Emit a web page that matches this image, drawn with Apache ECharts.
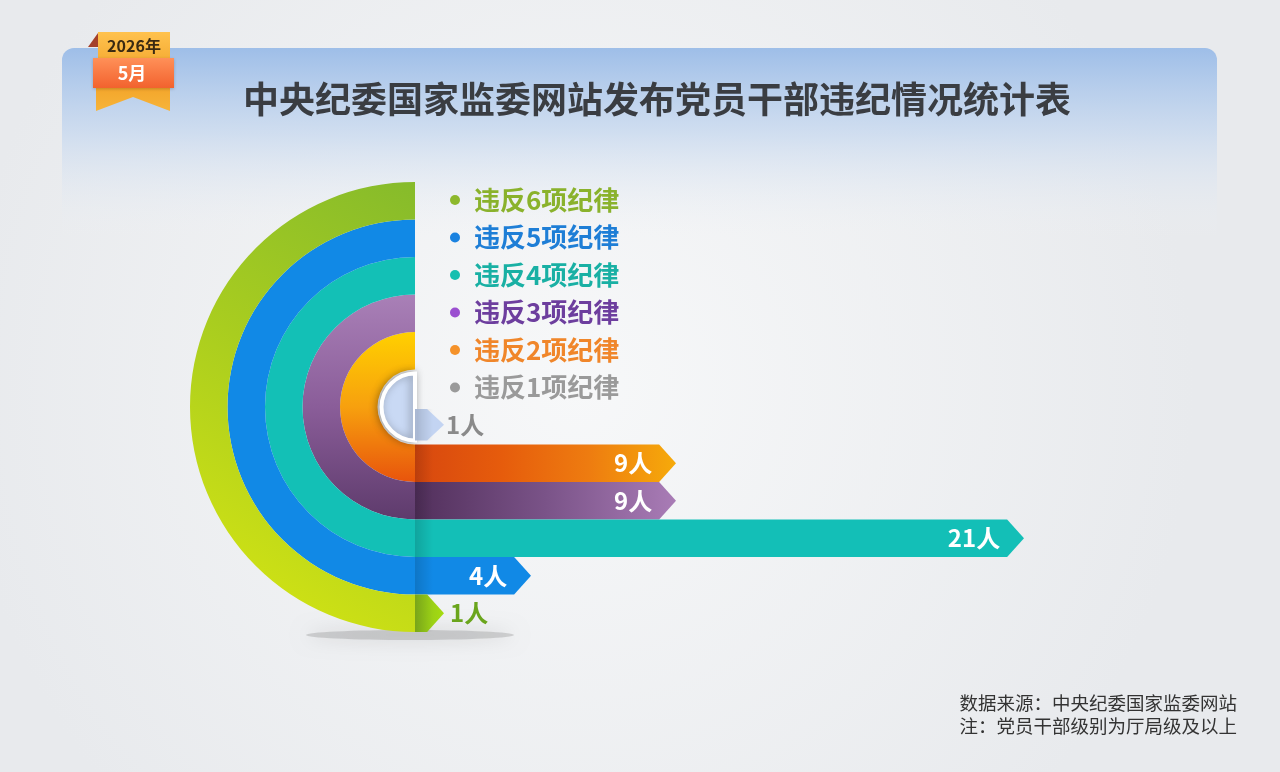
<!DOCTYPE html>
<html>
<head>
<meta charset="utf-8">
<script src="https://cdn.jsdelivr.net/npm/echarts@6/dist/echarts.min.js"></script>
<style>
html, body { margin: 0; padding: 0; background: #f0f2f5; }
#chart { width: 1280px; height: 772px; }
</style>
</head>
<body>
<div id="chart"></div>
<script>
// data, top category first
var categories = ['违反1项纪律', '违反2项纪律', '违反3项纪律', '违反4项纪律', '违反5项纪律', '违反6项纪律'];
var values = [1, 9, 9, 21, 4, 1];
var unit = '人';
var legendOrder = categories.slice().reverse();
var titleText = '中央纪委国家监委网站发布党员干部违纪情况统计表';
var badgeYear = '2026年';
var badgeMonth = '5月';
var notes = ['数据来源：中央纪委国家监委网站', '注：党员干部级别为厅局级及以上'];

var G = echarts.graphic;
var lg = function(x0, y0, x1, y1, stops) {
    return new G.LinearGradient(x0, y0, x1, y1, stops.map(function(c, i) {
        return typeof c == 'string' ? { offset: i / (stops.length - 1), color: c } : c;
    }));
};

// look of each band, same order as categories
var ringFill = [
    '#c9d9f4',
    lg(0, 0, 0, 1, ['#ffd000', '#f7a00e', '#e8540c']),
    lg(0, 0, 0, 1, ['#a980b7', '#8a5d99', '#5e3b6c']),
    '#13c0b6',
    '#1189e6',
    lg(0, 0.85, 1, 0, ['#d0e214', '#a9cd1f', '#86bb2b'])
];
var barFill = [
    'rgba(190,208,242,0.9)',
    lg(0, 0, 1, 0, ['#d8480f', '#e65c0c', '#ee7c10', '#f6aa0a']),
    lg(0, 0, 1, 0, ['#52305c', '#7a5388', '#a97cb6']),
    '#13bfb7',
    '#1189e6',
    lg(0, 0, 1, 0, ['#8cc01e', '#a6dc10'])
];
var legendDot = ['#9a9a9a', '#f5922a', '#9b4fd0', '#16bfb0', '#1a82e0', '#8db82c'];
var legendText = ['#9a9a9a', '#f0862a', '#6d3e9e', '#19b0a4', '#1e7ed6', '#8ab22c'];
var outLabel = ['#8a8a8a', '#fff', '#fff', '#fff', '#fff', '#6aa51c'];

var renderBand = function(idx) {
    return function(params, api) {
        var h = api.size([0, 1])[1];
        var cy = api.coord([0, 0])[1] - h / 2;
        var cx = api.coord([0, idx])[0];
        var tip = api.coord([api.value(0), idx])[0];
        var top = cy + idx * h, bot = top + h;
        var d = h * 0.45;
        var kids = [];
        if (idx == categories.length - 1) {
            kids.push({
                type: 'ellipse',
                shape: { cx: cx - 5, cy: bot + 3, rx: 104, ry: 5 },
                style: { fill: 'rgba(90,90,90,0.22)', shadowBlur: 18, shadowColor: 'rgba(0,0,0,0.6)' },
                z2: -1
            });
        }
        if (idx == 0) {
            kids.push({
                type: 'sector',
                shape: { cx: cx, cy: cy, r0: 0, r: h - 4, startAngle: Math.PI / 2, endAngle: Math.PI * 1.5, clockwise: true },
                style: { fill: ringFill[idx], stroke: '#fff', lineWidth: 4, shadowBlur: 8, shadowColor: 'rgba(0,0,0,0.35)', shadowOffsetX: -2 }
            });
        } else {
            kids.push({
                type: 'sector',
                shape: { cx: cx, cy: cy, r0: idx * h, r: (idx + 1) * h, startAngle: Math.PI / 2, endAngle: Math.PI * 1.5, clockwise: true },
                style: { fill: ringFill[idx] }
            });
        }
        var bt = idx == 0 ? top + 2 : top, bb = idx == 0 ? bot - 4 : bot;
        var bm = (bt + bb) / 2;
        kids.push({
            type: 'polygon',
            shape: { points: [[cx, bt], [tip - d, bt], [tip, bm], [tip - d, bb], [cx, bb]] },
            style: { fill: barFill[idx] }
        });
        kids.push({
            type: 'rect',
            shape: { x: cx, y: bt, width: 18, height: bb - bt },
            style: { fill: lg(0, 0, 1, 0, ['rgba(0,0,0,0.14)', 'rgba(0,0,0,0)']) }
        });
        var inside = tip - cx > 70;
        kids.push({
            type: 'text',
            x: inside ? tip - d - 7 : tip + (idx == 0 ? 2 : 6),
            y: bm,
            style: {
                text: api.value(0) + unit,
                fill: outLabel[idx],
                font: 'bold 24px "Noto Sans CJK SC", "Noto Sans", sans-serif',
                align: inside ? 'right' : 'left',
                verticalAlign: 'middle'
            }
        });
        return { type: 'group', children: kids };
    };
};

var series = categories.map(function(name, i) {
    return {
        type: 'custom',
        name: name,
        coordinateSystem: 'cartesian2d',
        itemStyle: { color: legendDot[i] },
        data: [[values[i], i]],
        encode: { x: 0, y: 1 },
        renderItem: renderBand(i),
        z: i == 0 ? 3 : 2
    };
});

var chart = echarts.init(document.getElementById('chart'));
chart.setOption({
    backgroundColor: new G.RadialGradient(0.45, 0.5, 0.8, [
        { offset: 0, color: '#f7f8f9' },
        { offset: 1, color: '#e8eaed' }
    ]),
    animation: false,
    title: {
        text: titleText,
        left: 238,
        top: 76,
        textStyle: {
            fontFamily: '"Noto Sans CJK SC", sans-serif',
            fontSize: 36,
            fontWeight: 'bold',
            color: '#3a3d42'
        }
    },
    legend: {
        orient: 'vertical',
        left: 445,
        top: 182,
        icon: 'circle',
        itemWidth: 10,
        itemHeight: 10,
        itemGap: 11.5,
        selectedMode: false,
        textStyle: {
            fontFamily: '"Noto Sans CJK SC", sans-serif',
            fontSize: 26,
            fontWeight: 'bold',
            lineHeight: 26,
            padding: [0, 0, 0, 9]
        },
        data: legendOrder.map(function(n) {
            var i = categories.indexOf(n);
            return { name: n, itemStyle: { color: legendDot[i] }, textStyle: { color: legendText[i] } };
        })
    },
    grid: { left: 415, top: 407, height: 225, right: 140 },
    xAxis: { type: 'value', min: 0, max: 25, show: false },
    yAxis: { type: 'category', data: categories, inverse: true, show: false },
    graphic: [
        {
            type: 'rect',
            shape: { x: 62, y: 48, width: 1155, height: 190, r: [12, 12, 0, 0] },
            style: {
                fill: lg(0, 0, 0, 1, [
                    { offset: 0, color: 'rgba(158,190,232,1)' },
                    { offset: 0.45, color: 'rgba(200,217,239,0.8)' },
                    { offset: 1, color: 'rgba(240,242,245,0)' }
                ])
            },
            z: -10
        },
        {
            type: 'group',
            left: 88,
            top: 32,
            children: [
                { type: 'polygon', shape: { points: [[2, 16], [12, 2], [12, 16]] }, style: { fill: '#a4402a' } },
                { type: 'rect', shape: { x: 12, y: 1, width: 72, height: 28 }, style: { fill: lg(0, 0, 0, 1, ['#ffc24e', '#f6ad36']) } },
                { type: 'text', x: 48, y: 15, style: { text: badgeYear, fill: '#3a2a12', font: 'bold 16px "Noto Sans CJK SC", sans-serif', align: 'center', verticalAlign: 'middle' } },
                { type: 'polygon', shape: { points: [[10, 55], [84, 55], [84, 80], [47, 66], [10, 80]] }, style: { fill: lg(0, 0, 0, 1, ['#f3a52a', '#f7b43a']) } },
                { type: 'rect', shape: { x: 7, y: 27, width: 81, height: 30 }, style: { fill: lg(0, 0, 0, 1, ['#ff9058', '#f2622e']), shadowBlur: 3, shadowColor: 'rgba(0,0,0,0.2)', shadowOffsetY: 1 } },
                { type: 'text', x: 46, y: 42, style: { text: badgeMonth, fill: '#fff', font: 'bold 18px "Noto Sans CJK SC", sans-serif', align: 'center', verticalAlign: 'middle' } }
            ]
        },
        {
            type: 'text',
            right: 43,
            top: 694,
            style: { text: notes[0], fill: '#333', font: '18.5px "Noto Sans CJK SC", sans-serif' }
        },
        {
            type: 'text',
            right: 43,
            top: 717,
            style: { text: notes[1], fill: '#333', font: '18.5px "Noto Sans CJK SC", sans-serif' }
        }
    ],
    series: series
});
</script>
</body>
</html>
